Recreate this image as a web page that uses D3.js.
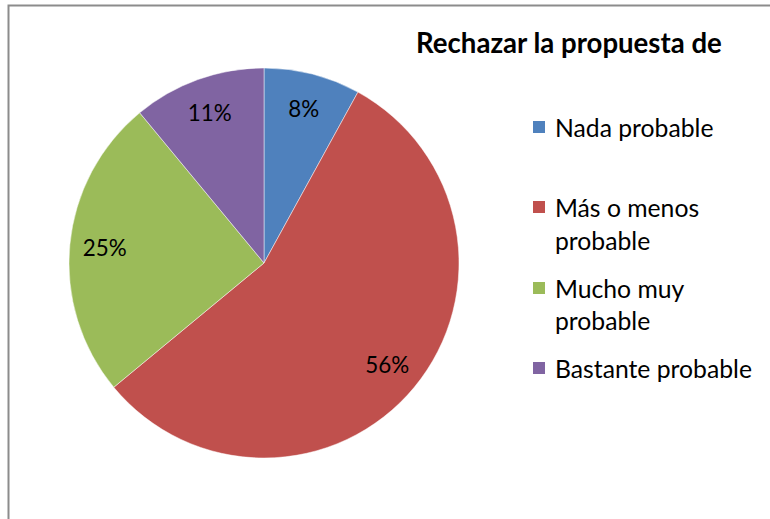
<!DOCTYPE html>
<html><head><meta charset="utf-8">
<script src="https://cdn.jsdelivr.net/npm/d3@7"></script>
<style>body{margin:0;background:#fff}svg{display:block}</style>
</head><body>
<svg id="c" width="770" height="519"></svg>
<script>
const title = "Rechazar la propuesta de";
const categories = ["Nada probable", "Más o menos probable", "Mucho muy probable", "Bastante probable"];
const legendLines = [["Nada probable"], ["Más o menos", "probable"], ["Mucho muy", "probable"], ["Bastante probable"]];
const values = [8, 56, 25, 11];
const colors = ["#4F81BD", "#C0504D", "#9BBB59", "#8064A2"];

const svg = d3.select("#c");
const font = "Lato, 'Open Sans', sans-serif";

function fitSize(text, weight, target, base) {
  const t = svg.append("text").attr("font-family", font).attr("font-weight", weight).attr("font-size", base).text(text);
  const w = t.node().getComputedTextLength();
  t.remove();
  return base * target / w;
}
const legendSize = fitSize("Bastante probable", "normal", 197, 20);
const labelSize = fitSize("56%", "normal", 44, 20);
const titleSize = fitSize(title, "bold", 306, 22);

// frame
svg.append("path").attr("d", "M8.5,530 V5.5 H780").attr("fill", "none").attr("stroke", "#8c8c8c").attr("stroke-width", 2);

const cx = 264, cy = 263, r = 195;
const g = svg.append("g").attr("transform", `translate(${cx},${cy})`);
const pie = d3.pie().sort(null).value(d => d)(values);
const arc = d3.arc().innerRadius(0).outerRadius(r);
const labelArc = d3.arc().innerRadius(160).outerRadius(160);
const total = d3.sum(values);

g.selectAll("path.s").data(pie).join("path").attr("class", "s")
  .attr("d", arc).attr("fill", (d, i) => colors[i])
  .attr("stroke", "#ffffff").attr("stroke-width", 0.8).attr("stroke-opacity", 0.6);

g.selectAll("text.l").data(pie).join("text").attr("class", "l")
  .attr("transform", d => `translate(${labelArc.centroid(d)})`)
  .attr("text-anchor", "middle").attr("dominant-baseline", "central")
  .attr("font-family", font).attr("font-size", labelSize).attr("fill", "#000")
  .text(d => Math.round(d.data / total * 100) + "%");

svg.append("text").attr("x", 416).attr("y", 53).attr("font-family", font)
  .attr("font-weight", "bold").attr("font-size", titleSize).attr("fill", "#000").text(title);

const legendY = [[127], [207, 240], [288, 320], [368]];
const lg = svg.append("g");
legendLines.forEach((lines, i) => {
  lg.append("rect").attr("x", 533).attr("y", legendY[i][0] - 6).attr("width", 12).attr("height", 12).attr("fill", colors[i]);
  lines.forEach((t, j) => {
    lg.append("text").attr("x", 555).attr("y", legendY[i][j]).attr("dominant-baseline", "central")
      .attr("font-family", font).attr("font-size", legendSize).attr("fill", "#000").text(t);
  });
});
</script>
</body></html>
